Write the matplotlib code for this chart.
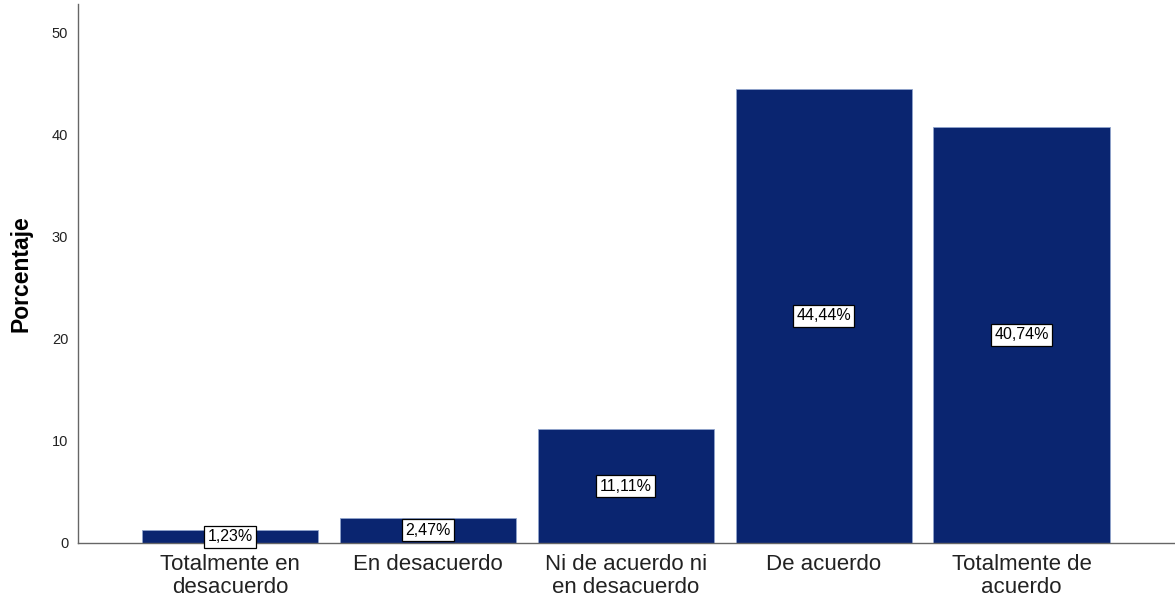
import matplotlib
matplotlib.use("Agg")
import matplotlib.pyplot as plt

categories = ["Totalmente en\ndesacuerdo", "En desacuerdo", "Ni de acuerdo ni\nen desacuerdo",
              "De acuerdo", "Totalmente de\nacuerdo"]
values = [1.23, 2.47, 11.11, 44.44, 40.74]
yticks = [0, 10, 20, 30, 40, 50]

plt.rcParams['font.family'] = ['Liberation Sans', 'DejaVu Sans']

fig = plt.figure(figsize=(11.75, 6.04), dpi=100)
ax = fig.add_axes([78/1175, 61/604, 1 - 78/1175, (543-4)/604])

x = list(range(len(categories)))
ax.bar(x, values, width=0.89, color='#0a2570', edgecolor='#8fa3cc', linewidth=0.6, zorder=2)

for xi, v in zip(x, values):
    lbl = f"{v:.2f}".replace('.', ',') + '%'
    ax.text(xi, v/2, lbl, ha='center', va='center', fontsize=11.5, color='black', zorder=3,
            bbox=dict(boxstyle='square,pad=0.22', facecolor='white', edgecolor='black', linewidth=0.9))

ax.set_xlim(-0.768, 4.776)
ax.set_ylim(0, 52.74)
ax.set_xticks(x)
ax.set_xticklabels(categories, fontsize=16, color='#222222', linespacing=1.1)
ax.set_yticks(yticks)
ax.set_yticklabels([str(t) for t in yticks], fontsize=10.5, color='#222222')
ax.tick_params(axis='both', length=0)
ax.tick_params(axis='x', pad=8)
ax.tick_params(axis='y', pad=7)
ax.set_ylabel("Porcentaje", fontsize=16.5, fontweight='bold', labelpad=14)

for s in ['top', 'right']:
    ax.spines[s].set_visible(False)
for s in ['left', 'bottom']:
    ax.spines[s].set_color('#666666')
    ax.spines[s].set_linewidth(1.0)

fig.savefig("out.png", dpi=100)
